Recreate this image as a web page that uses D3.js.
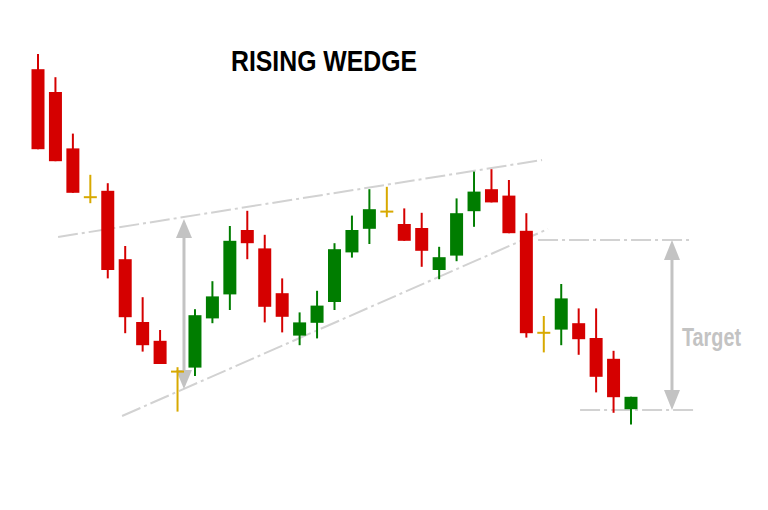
<!DOCTYPE html>
<html>
<head>
<meta charset="utf-8">
<script src="https://cdn.jsdelivr.net/npm/d3@7"></script>
<style>
  html, body { margin: 0; padding: 0; background: #fff; }
  svg { display: block; }
</style>
</head>
<body>
<svg id="chart" width="768" height="510"></svg>
<script>
// Candle sessions (index) and OHLC prices
const sessions = d3.range(35);
const opens  = [90.2, 84.5, 70.4, 58.2, 59.8, 42.7, 27.0, 22.3, 14.6, 15.6, 27.9, 33.9, 50.0, 45.4, 34.2, 23.6, 26.8, 32.0, 44.4, 50.3, 54.6, 51.5, 50.5, 40.0, 43.6, 54.7, 60.2, 58.6, 49.8, 24.3, 25.1, 26.7, 23.0, 17.8, 5.2];
const highs  = [94.0, 88.2, 74.1, 63.8, 61.7, 46.0, 33.2, 25.0, 15.7, 30.2, 37.2, 51.0, 54.8, 48.8, 37.9, 29.4, 34.8, 46.7, 53.6, 60.2, 60.8, 55.4, 54.3, 45.8, 57.9, 64.6, 65.2, 62.5, 54.2, 28.5, 36.5, 30.4, 30.4, 19.8, 8.3];
const lows   = [70.2, 67.2, 59.3, 56.7, 37.9, 24.2, 19.6, 16.5, 4.6, 13.5, 26.7, 30.0, 42.7, 26.9, 24.4, 21.2, 22.9, 30.0, 43.1, 46.5, 53.2, 47.3, 40.8, 37.7, 42.2, 50.8, 56.9, 49.2, 23.1, 19.4, 21.2, 18.8, 9.4, 4.3, 1.4];
const closes = [70.2, 67.2, 59.3, 58.2, 40.0, 28.2, 21.2, 16.5, 14.6, 28.7, 33.4, 47.3, 46.7, 30.8, 28.3, 26.9, 31.1, 45.2, 50.0, 55.2, 54.6, 47.3, 44.8, 43.2, 54.2, 59.6, 56.9, 49.2, 24.2, 24.3, 32.9, 22.7, 13.3, 8.2, 8.3];

// Wedge boundaries and target levels, as [session, price] pairs
const upperLine  = [[1.15, 48.25], [28.9, 67.5]];
const lowerLine  = [[4.82, 3.5], [29.24, 50.25]];
const targetTop  = [[28.67, 47.5], [37.5, 47.5]];
const targetBot  = [[31.08, 5.0], [37.67, 5.0]];
const heightArrow = [[8.37, 52.75], [8.37, 10.25]];
const targetArrow = [[36.35, 47.5], [36.35, 5.0]];

const titleText = "RISING WEDGE";
const targetText = "Target";

const candles = sessions.map(i => ({
  i, open: opens[i], high: highs[i], low: lows[i], close: closes[i]
}));

const svg = d3.select("#chart");
const x = d3.scaleLinear().domain([0, 34]).range([38, 631]);
const y = d3.scaleLinear().domain([0, 100]).range([430, 30]);

const RED = "#d50000", GREEN = "#007d00", DOJI = "#d8a900";
const LINE_GREY = "#d2d2d2", ARROW_GREY = "#c3c3c3";
const bodyW = 13;

const line = d3.line().x(d => x(d[0])).y(d => y(d[1]));

// dash-dot guide lines
svg.append("g")
  .selectAll("path")
  .data([upperLine, lowerLine, targetTop, targetBot])
  .join("path")
  .attr("d", line)
  .attr("fill", "none")
  .attr("stroke", LINE_GREY)
  .attr("stroke-width", 2)
  .attr("stroke-dasharray", "20,4,3,4");

// measurement arrows with heads on both ends
function drawArrow(pts, headW, headH) {
  const g = svg.append("g");
  const xa = x(pts[0][0]);
  const yTop = y(pts[0][1]);
  const yBot = y(pts[1][1]);
  g.append("line")
    .attr("x1", xa).attr("x2", xa)
    .attr("y1", yTop + headH - 1).attr("y2", yBot - headH + 1)
    .attr("stroke", ARROW_GREY).attr("stroke-width", 3);
  g.append("path")
    .attr("d", `M${xa},${yTop} L${xa - headW / 2},${yTop + headH} L${xa + headW / 2},${yTop + headH} Z`)
    .attr("fill", ARROW_GREY);
  g.append("path")
    .attr("d", `M${xa},${yBot} L${xa - headW / 2},${yBot - headH} L${xa + headW / 2},${yBot - headH} Z`)
    .attr("fill", ARROW_GREY);
}
drawArrow(heightArrow, 16, 19);
drawArrow(targetArrow, 16, 20);

// candles
const cg = svg.append("g")
  .selectAll("g")
  .data(candles)
  .join("g");

const isDoji = d => d.open === d.close;
const colorOf = d => isDoji(d) ? DOJI : (d.close > d.open ? GREEN : RED);

cg.append("line")
  .attr("x1", d => x(d.i)).attr("x2", d => x(d.i))
  .attr("y1", d => y(d.high)).attr("y2", d => y(d.low))
  .attr("stroke", colorOf)
  .attr("stroke-width", 2);

cg.filter(d => !isDoji(d)).append("rect")
  .attr("x", d => x(d.i) - bodyW / 2)
  .attr("width", bodyW)
  .attr("y", d => y(Math.max(d.open, d.close)))
  .attr("height", d => Math.abs(y(d.open) - y(d.close)))
  .attr("fill", colorOf);

cg.filter(isDoji).append("line")
  .attr("x1", d => x(d.i) - bodyW / 2).attr("x2", d => x(d.i) + bodyW / 2)
  .attr("y1", d => y(d.open)).attr("y2", d => y(d.open))
  .attr("stroke", DOJI)
  .attr("stroke-width", 2);

// title
svg.append("text")
  .attr("x", 231).attr("y", 71)
  .attr("font-family", "'Liberation Sans', Arial, sans-serif")
  .attr("font-weight", "bold")
  .attr("font-size", 29.5)
  .attr("textLength", 186)
  .attr("lengthAdjust", "spacingAndGlyphs")
  .attr("fill", "#000")
  .text(titleText);

// target label
svg.append("text")
  .attr("x", 682).attr("y", 346)
  .attr("font-family", "'Liberation Sans', Arial, sans-serif")
  .attr("font-weight", "bold")
  .attr("font-size", 25)
  .attr("textLength", 59)
  .attr("lengthAdjust", "spacingAndGlyphs")
  .attr("fill", ARROW_GREY)
  .text(targetText);
</script>
</body>
</html>
